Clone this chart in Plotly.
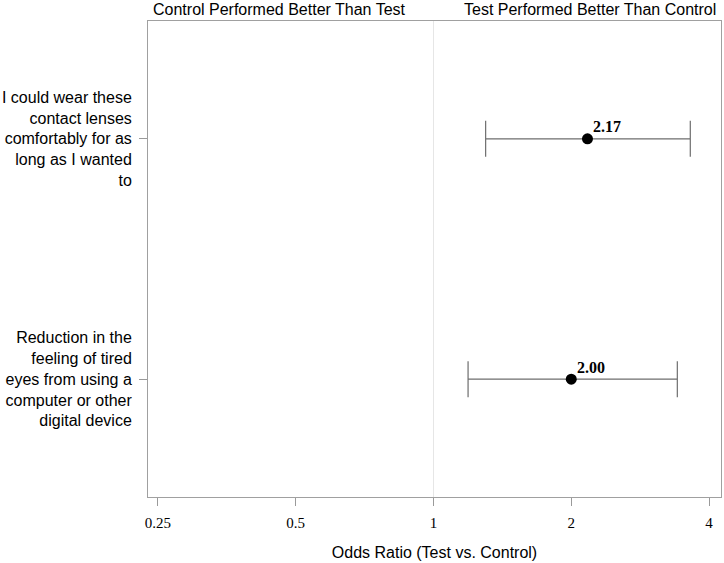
import math
import plotly.graph_objects as go

questions = [
    "I could wear these<br>contact lenses<br>comfortably for as<br>long as I wanted<br>to",
    "Reduction in the<br>feeling of tired<br>eyes from using a<br>computer or other<br>digital device",
]
odds_ratio = [2.17, 2.00]
ci_low = [1.30, 1.19]
ci_high = [3.64, 3.41]
labels = ["2.17", "2.00"]
x_ticks = [0.25, 0.5, 1, 2, 4]
x_ticklabels = ["0.25", "0.5", "1", "2", "4"]

ypos = list(range(len(questions)))

fig = go.Figure()
fig.add_trace(go.Scatter(
    x=odds_ratio, y=ypos, mode="markers",
    marker=dict(size=11, color="black"),
    error_x=dict(type="data", symmetric=False,
                 array=[h - o for h, o in zip(ci_high, odds_ratio)],
                 arrayminus=[o - l for o, l in zip(odds_ratio, ci_low)],
                 color="#6e6e6e", thickness=1.2, width=18),
    cliponaxis=False, showlegend=False, hoverinfo="skip",
))

for xv, yv, lab in zip(odds_ratio, ypos, labels):
    fig.add_annotation(x=math.log10(xv), y=yv, xref="x", yref="y", text="<b>" + lab + "</b>",
                       showarrow=False, xanchor="left", yanchor="middle",
                       xshift=4, yshift=12,
                       font=dict(family="Liberation Serif", size=16, color="black"))

fig.add_shape(type="line", xref="x", yref="paper", x0=1, x1=1, y0=0, y1=1,
              line=dict(color="#e6e6e6", width=1), layer="below")

fig.add_annotation(text="Control Performed Better Than Test", xref="paper", yref="paper",
                   x=0.006, y=1, xanchor="left", yanchor="bottom", showarrow=False, yshift=1,
                   font=dict(family="Liberation Sans", size=16, color="black"))
fig.add_annotation(text="Test Performed Better Than Control", xref="paper", yref="paper",
                   x=0.995, y=1, xanchor="right", yanchor="bottom", showarrow=False, yshift=1,
                   font=dict(family="Liberation Sans", size=16, color="black"))

fig.update_layout(
    width=724, height=563,
    margin=dict(l=147, r=2, t=21, b=66),
    paper_bgcolor="white", plot_bgcolor="white",
    xaxis=dict(type="log", range=[-0.6238, 0.6282], tickvals=x_ticks, ticktext=x_ticklabels,
               ticks="outside", ticklen=8, tickcolor="#9a9a9a", showgrid=False, zeroline=False,
               showline=True, linecolor="#a0a0a0", mirror=True, ticklabelstandoff=4,
               tickfont=dict(family="Liberation Serif", size=15, color="black"),
               title=dict(text="Odds Ratio (Test vs. Control)", standoff=16,
                          font=dict(family="Liberation Sans", size=16, color="black"))),
    yaxis=dict(range=[1.49, -0.49], tickvals=ypos, ticktext=questions,
               ticks="outside", ticklen=8, tickcolor="#9a9a9a", showgrid=False, zeroline=False,
               showline=True, linecolor="#a0a0a0", mirror=True, ticklabelstandoff=4,
               tickfont=dict(family="Liberation Sans", size=16, color="black")),
)

fig.write_html("out.html", config={"displayModeBar": False},
               post_script="document.body.style.margin='0';")
